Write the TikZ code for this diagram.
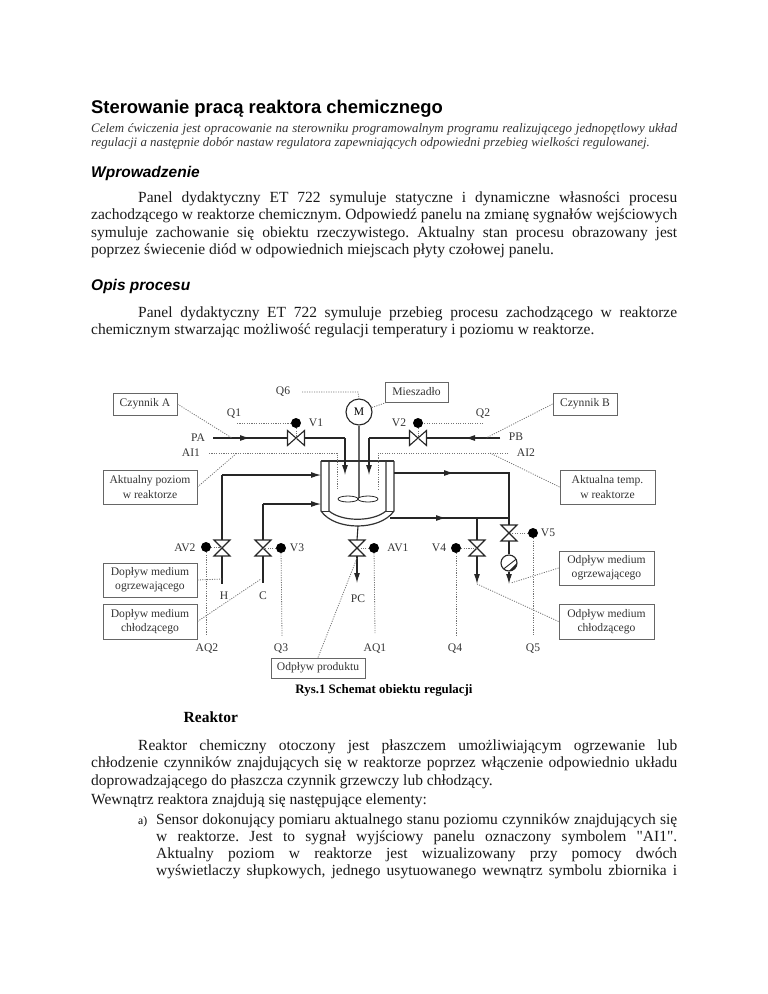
\documentclass[tikz,border=0pt]{standalone}
\usepackage{fontspec}
\setmainfont{Liberation Serif}[Ligatures=TeXOff]
\setsansfont{Liberation Sans}
\frenchspacing
\usetikzlibrary{arrows.meta}

\begin{document}
\begin{tikzpicture}[
  x=1pt, y=-1pt,
  body/.style={anchor=north west, inner sep=0, text width=586pt, align=justify, font=\fontsize{15.5pt}{17.5pt}\selectfont, text=black!90},
  abstract/.style={anchor=north west, inner sep=0, text width=586pt, align=justify, font=\fontsize{12.9pt}{14pt}\selectfont\itshape, text=black!80},
  head/.style={anchor=base west, inner sep=0, font=\sffamily\fontsize{15.5pt}{18pt}\selectfont\bfseries\itshape},
  tag/.style={inner sep=0, font=\fontsize{11.6pt}{14pt}\selectfont, text=black!80},
  infobox/.style={draw=black!60, line width=.9pt, inner sep=0, align=center, font=\fontsize{11.6pt}{14.4pt}\selectfont, text=black!80},
  sig/.style={draw=black!55, line width=.8pt, dash pattern=on 1.1pt off 1.3pt},
  pipe/.style={draw=black!85, line width=1.1pt},
  flow/.style={pipe, -{Latex[length=10pt,width=6pt]}},
  shell/.style={draw=black!80, line width=1.2pt},
  dot/.style={circle, fill=black, inner sep=0, minimum size=10pt},
  pics/hvalve/.style={code={
    \draw[pipe] (-8.5,-7.5) -- (8.5,7.5) -- (8.5,-7.5) -- (-8.5,7.5) -- cycle;
    \coordinate (-w) at (-8.5,0); \coordinate (-e) at (8.5,0);
  }},
  pics/vvalve/.style={code={
    \draw[pipe] (-8,-8) -- (8,-8) -- (-8,8) -- (8,8) -- cycle;
    \coordinate (-n) at (0,-8); \coordinate (-s) at (0,8);
  }}
]
\useasboundingbox (0,0) rectangle (768,994);

\node[anchor=base west, inner sep=0, font=\sffamily\fontsize{18.4pt}{20pt}\selectfont\bfseries] (title) at (91,113) {Sterowanie pracą reaktora chemicznego};
\node[abstract] (abs) at (91,123.2) {Celem ćwiczenia jest opracowanie na sterowniku programowalnym programu realizującego jednopętlowy układ\linebreak regulacji a następnie dobór nastaw regulatora zapewniających odpowiedni przebieg wielkości regulowanej.};
\node[head] (intro) at (91,177) {Wprowadzenie};
\node[body] (par1) at (91,191.4) {\hspace*{47pt}Panel dydaktyczny ET 722 symuluje statyczne i dynamiczne własności procesu\linebreak zachodzącego w reaktorze chemicznym. Odpowiedź panelu na zmianę sygnałów wejściowych\linebreak symuluje zachowanie się obiektu rzeczywistego. Aktualny stan procesu obrazowany jest\linebreak poprzez świecenie diód w odpowiednich miejscach płyty czołowej panelu.};
\node[head] (opis) at (91,290.5) {Opis procesu};
\node[body] (par2) at (91,306.4) {\hspace*{47pt}Panel dydaktyczny ET 722 symuluje przebieg procesu zachodzącego w reaktorze\linebreak chemicznym stwarzając możliwość regulacji temperatury i poziomu w reaktorze.};

\node[infobox, minimum width=64pt, minimum height=22pt] (cza) at (145,404) {Czynnik A};
\node[infobox, minimum width=64pt, minimum height=22pt] (czb) at (585,404) {Czynnik B};
\node[infobox, minimum width=63pt, minimum height=20pt] (mie) at (416.5,392) {Mieszadło};
\node[infobox, minimum width=94pt, minimum height=34pt] (poz) at (150,487) {Aktualny poziom\\w reaktorze};
\node[infobox, minimum width=95pt, minimum height=34pt] (tem) at (607.5,487) {Aktualna temp.\\w reaktorze};
\node[infobox, minimum width=94pt, minimum height=34pt] (dog) at (150,580) {Dopływ medium\\ogrzewającego};
\node[infobox, minimum width=94pt, minimum height=35pt] (dch) at (150,621.5) {Dopływ medium\\chłodzącego};
\node[infobox, minimum width=95pt, minimum height=34pt] (oog) at (606.5,568) {Odpływ medium\\ogrzewającego};
\node[infobox, minimum width=95pt, minimum height=35pt] (och) at (606.5,621.5) {Odpływ medium\\chłodzącego};
\node[infobox, minimum width=94pt, minimum height=20pt] (opr) at (318,668) {Odpływ produktu};

\pic (v1) at (296,438) {hvalve};
\pic (v2) at (418,438) {hvalve};
\pic (av2) at (222,548) {vvalve};
\pic (v3) at (263,548) {vvalve};
\pic (av1) at (357,548) {vvalve};
\pic (v4) at (477,548) {vvalve};
\pic (v5) at (509,533) {vvalve};

\node[dot] (d1) at (296,423) {};
\node[dot] (d2) at (418,423) {};
\node[dot] (dav2) at (206,547) {};
\node[dot] (d3) at (281,548) {};
\node[dot] (dav1) at (374,548) {};
\node[dot] (d4) at (456,548) {};
\node[dot] (d5) at (533,533) {};

\node[tag] (tq6) at (283,392) {Q6};
\node[tag] (tq1) at (234,414) {Q1};
\node[tag] (tq2) at (483,414) {Q2};
\node[tag] (tv1) at (316,423) {V1};
\node[tag] (tv2) at (399,423) {V2};
\node[tag] (tpa) at (198,438) {PA};
\node[tag] (tpb) at (516,437) {PB};
\node[tag] (tai1) at (191,453) {AI1};
\node[tag] (tai2) at (526,453) {AI2};
\node[tag] (tv5) at (548,533) {V5};
\node[tag] (tav2) at (185,548) {AV2};
\node[tag] (tv3) at (297,548) {V3};
\node[tag] (tav1) at (398,548) {AV1};
\node[tag] (tv4) at (439,548) {V4};
\node[tag] (th) at (224,596) {H};
\node[tag] (tc) at (263,596) {C};
\node[tag] (tpc) at (358,599) {PC};
\node[tag] (taq2) at (207,649) {AQ2};
\node[tag] (tq3) at (281,649) {Q3};
\node[tag] (taq1) at (375,649) {AQ1};
\node[tag] (tq4) at (455,649) {Q4};
\node[tag] (tq5) at (533,649) {Q5};

\node[circle, draw=black!85, line width=1.1pt, inner sep=0, minimum size=26pt, font=\fontsize{11.6pt}{14pt}\selectfont] (m) at (359,412) {M};
\draw[draw=black!60, line width=1.2pt] (m.south) -- (359,499);
\draw[pipe, line width=.8pt, fill=white] (348,499) ellipse (10 and 3);
\draw[pipe, line width=.8pt, fill=white] (368,499) ellipse (10 and 3);

\draw[shell] (321,461) -- (394,461);
\draw[shell] (321,461) -- (321,511) .. controls (335,531) and (380,531) .. (394,511) -- (394,461);
\draw[shell] (329,461) -- (329,511) .. controls (342,522) and (373,522) .. (386,511) -- (386,461);
\draw[shell, line width=.9pt] (321,511) -- (329,511);
\draw[shell, line width=.9pt] (386,511) -- (394,511);

\coordinate (pa) at (213,438);
\coordinate (pam) at (250,438);
\coordinate (v1c) at (345,438);
\coordinate (v1a) at (345,475);
\coordinate (pb) at (500,438);
\coordinate (pbm) at (465,438);
\coordinate (v2c) at (369,438);
\coordinate (v2a) at (369,475);
\coordinate (hin) at (321,475);
\coordinate (hinc) at (222,475);
\coordinate (cin) at (321,504);
\coordinate (cinc) at (263,504);
\coordinate (out1) at (394,473);
\coordinate (out1m) at (454,473);
\coordinate (out1c) at (509,473);
\coordinate (out2) at (390,518);
\coordinate (out2m) at (446,518);
\coordinate (jn4) at (477,518);
\coordinate (jn5) at (509,518);
\coordinate (hend) at (222,584);
\coordinate (cend) at (263,583);
\coordinate (av1a) at (357,583);
\coordinate (v4a) at (477,584);
\coordinate (v5a) at (509,584);
\coordinate (bot) at (358,526);

\draw[pipe] (pa) -- (v1-w);
\draw[flow] (pa) -- (pam);
\draw[pipe] (v1-e) -- (v1c);
\draw[flow] (v1c) -- (v1a);
\draw[pipe] (pb) -- (v2-e);
\draw[flow] (pb) -- (pbm);
\draw[pipe] (v2-w) -- (v2c);
\draw[flow] (v2c) -- (v2a);
\draw[flow] (hinc) -- (hin);
\draw[pipe] (hinc) -- (av2-n);
\draw[pipe] (av2-s) -- (hend);
\draw[flow] (cinc) -- (cin);
\draw[pipe] (cinc) -- (v3-n);
\draw[pipe] (v3-s) -- (cend);
\draw[pipe] (bot) -- (av1-n);
\draw[flow] (av1-s) -- (av1a);
\draw[flow] (out1) -- (out1m);
\draw[pipe] (out1) -- (out1c) -- (v5-n);
\draw[flow] (out2) -- (out2m);
\draw[pipe] (out2) -- (jn5);
\draw[pipe] (jn4) -- (v4-n);
\draw[flow] (v4-s) -- (v4a);

\node[circle, draw=black!85, line width=1.1pt, inner sep=0, minimum size=16pt,
  path picture={
    \draw[line width=.9pt] ([shift={(2pt,-2pt)}]path picture bounding box.north east) -- (path picture bounding box.south west);
    \draw[line width=3pt] ([shift={(4pt,-6pt)}]path picture bounding box.north east) -- ([shift={(4pt,-6pt)}]path picture bounding box.south west);
  }] (meter) at (509,563) {};
\draw[pipe] (v5-s) -- (meter);
\draw[flow] (meter) -- (v5a);

\coordinate (q6s) at (302,392);
\coordinate (q6c) at (358,392);
\coordinate (q1s) at (237,423);
\coordinate (q2s) at (483,423);
\coordinate (ai1s) at (209,453);
\coordinate (ai1c) at (337,453);
\coordinate (ai1e) at (337,490);
\coordinate (ai2s) at (508,453);
\coordinate (ai2c) at (378,453);
\coordinate (ai2e) at (378,490);
\coordinate (ptaj) at (232,438);
\coordinate (ptbj) at (486,438);
\coordinate (pozj) at (237,453);
\coordinate (temj) at (490,453);
\coordinate (aq2s) at (206,635);
\coordinate (q3s) at (282,636);
\coordinate (aq1s) at (375,633);
\coordinate (q4s) at (456,636);
\coordinate (q5s) at (533,636);
\coordinate (hj) at (222,579);
\coordinate (cj) at (261,579);
\coordinate (prj) at (357,558);
\coordinate (ogj) at (511,583);

\draw[sig] (q6s) -- (q6c) -- (m.north);
\draw[sig] (m) -- (mie);
\draw[sig] (q1s) -- (d1);
\draw[sig] (d1) -- (v1-e -| d1);
\draw[sig] (q2s) -- (d2);
\draw[sig] (d2) -- (v2-e -| d2);
\draw[sig] (ai1s) -- (ai1c) -- (ai1e);
\draw[sig] (ai2s) -- (ai2c) -- (ai2e);
\draw[sig] (cza.east) -- (ptaj);
\draw[sig] (czb.west) -- (ptbj);
\draw[sig] (poz.east) -- (pozj);
\draw[sig] (tem.west) -- (temj);
\draw[sig] (dav2) -- (aq2s);
\draw[sig] (d3) -- (q3s);
\draw[sig] (dav1) -- (aq1s);
\draw[sig] (d4) -- (q4s);
\draw[sig] (d5) -- (q5s);
\draw[sig] (dav2) -- (av2-n |- dav2);
\draw[sig] (d3) -- (v3-n |- d3);
\draw[sig] (dav1) -- (av1-n |- dav1);
\draw[sig] (d4) -- (v4-n |- d4);
\draw[sig] (d5) -- (v5-n |- d5);
\draw[sig] (dog.east) -- (hj);
\draw[sig] (dch.east) -- (cj);
\draw[sig] (opr.north) -- (prj);
\draw[sig] (oog.west) -- (ogj);
\draw[sig] (och.west) -- (v4a);

\node[anchor=base, inner sep=0, font=\fontsize{12.9pt}{14pt}\selectfont\bfseries] (cap) at (384,693.5) {Rys.1 Schemat obiektu regulacji};
\node[anchor=base west, inner sep=0, font=\fontsize{15.5pt}{18pt}\selectfont\bfseries] (reak) at (183.5,722.5) {Reaktor};
\node[body] (par3) at (91,739.4) {\hspace*{47pt}Reaktor chemiczny otoczony jest płaszczem umożliwiającym ogrzewanie lub\linebreak chłodzenie czynników znajdujących się w reaktorze poprzez włączenie odpowiednio układu\linebreak doprowadzającego do płaszcza czynnik grzewczy lub chłodzący.\\[1.5pt]Wewnątrz reaktora znajdują się następujące elementy:};
\node[anchor=base west, inner sep=0, font=\fontsize{11.6pt}{14pt}\selectfont] (lista) at (138,824) {a)};
\node[body, text width=521pt, font=\fontsize{15.5pt}{17pt}\selectfont] (item) at (156,813.4) {Sensor dokonujący pomiaru aktualnego stanu poziomu czynników znajdujących się\linebreak w reaktorze. Jest to sygnał wyjściowy panelu oznaczony symbolem "AI1".\linebreak Aktualny poziom w reaktorze jest wizualizowany przy pomocy dwóch\linebreak wyświetlaczy słupkowych, jednego usytuowanego wewnątrz symbolu zbiornika i\linebreak};

\end{tikzpicture}
\end{document}
